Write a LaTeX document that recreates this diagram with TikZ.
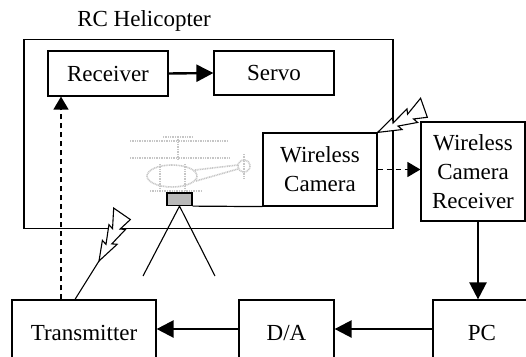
\documentclass[tikz,border=0pt]{standalone}
\usepackage{fontspec}
\setmainfont{Liberation Serif}
\usetikzlibrary{arrows.meta}
\begin{document}
\begin{tikzpicture}[x=1pt,y=-1pt,
  txt/.style={font=\fontsize{23}{29}\selectfont},
  box/.style={draw, line width=1.2pt, rectangle, inner sep=0pt, align=center, txt},
  flow/.style={line width=2.4pt, -{Triangle[length=17pt,width=17pt]}},
  radio/.style={line width=1.5pt, dash pattern=on 5pt off 4pt, -{Triangle[length=13pt,width=15pt]}},
  heli/.style={gray!45, line width=1.6pt, dash pattern=on 1pt off 0.7pt},
  boltline/.style={line width=1.1pt, fill=white, line join=miter}]
\clip (0,0) rectangle (526,356);
\fill[white] (0,0) rectangle (526,356);

% helicopter frame and its title
\node[draw, line width=1.2pt, minimum width=369pt, minimum height=189pt, inner sep=0pt] (frame) at (208.5,134) {};
\node[txt, inner sep=0pt] (title) at (144,21) {RC Helicopter};

% faint helicopter sketch
\draw[heli] (130,141) -- (227,141);
\draw[heli] (163,137) -- (193,137);
\draw[heli] (178,137) -- (178,160);
\draw[heli] (130,158) -- (230,158);
\draw[heli] (172,176) ellipse (25 and 11);
\draw[heli] (195,170) -- (238,165);
\draw[heli] (196,181) -- (238,169);
\draw[heli] (244,166) circle (6);
\draw[heli] (244,154) -- (244,178);
\draw[heli] (150,191) -- (202,191);
\draw[heli] (160,164) -- (160,191);
\draw[heli] (185,164) -- (185,191);

% blocks on board
\node[box, minimum width=120pt, minimum height=45pt] (recv) at (108,73.5) {Receiver};
\node[box, minimum width=120pt, minimum height=44pt] (servo) at (274,73) {Servo};
\node[box, minimum width=114pt, minimum height=73pt] (cam) at (320,169.5) {Wireless\\Camera};

% camera mount and tripod
\node[draw, line width=1.2pt, fill=gray!55, minimum width=25pt, minimum height=12.5pt, inner sep=0pt] (mount) at (179.5,199.25) {};
\coordinate (legl) at (143,276);
\coordinate (legr) at (215,276);
\draw[line width=1.2pt] (mount.south east) -- (cam.south west);
\draw[line width=1.1pt] (legl) -- (mount.south) -- (legr);

% ground blocks
\node[box, minimum width=104pt, minimum height=99pt] (camrx) at (473,171.5) {Wireless\\Camera\\Receiver};
\node[box, minimum width=144pt, minimum height=66pt] (tx) at (84,333) {Transmitter};
\node[box, minimum width=95pt, minimum height=66pt] (da) at (286.5,333) {D/A};
\node[box, minimum width=98pt, minimum height=66pt] (pc) at (482,333) {PC};

% signal flow
\draw[flow] (recv.east) -- (servo.west);
\draw[radio] (cam.east) -- (camrx.west |- cam.east);
\draw[flow] ([xshift=5pt]camrx.south) -- ([xshift=5pt]camrx.south |- pc.north);
\draw[flow] ([yshift=4pt]pc.west) -- ([yshift=4pt]da.east);
\draw[flow] ([yshift=4pt]da.west) -- ([yshift=4pt]tx.east);
\coordinate (uplink) at (61,0);
\draw[radio] (tx.north -| uplink) -- (recv.south -| uplink);

% radio links: lightning bolts drawn along a local axis (a, l)
\coordinate (stem) at (75,0);
\coordinate (txbolt) at (99,261);
\draw[line width=1.1pt] (tx.north -| stem) -- (txbolt);
\begin{scope}[shift={(txbolt)}, rotate=64, y=1pt]
  \draw[boltline] (0,0) -- (20,6) -- (18,1) -- (37,7) -- (35,2) -- (54,10)
     -- (51,-10) -- (38,-5) -- (40,-10) -- (21,-4) -- (23,-9) -- cycle;
\end{scope}
\begin{scope}[shift={(cam.north east)}, rotate=28, y=1pt]
  \draw[boltline] (0,0) -- (20,6) -- (18,1) -- (37,7) -- (35,2) -- (54,10)
     -- (51,-10) -- (38,-5) -- (40,-10) -- (21,-4) -- (23,-9) -- cycle;
\end{scope}
\end{tikzpicture}
\end{document}
